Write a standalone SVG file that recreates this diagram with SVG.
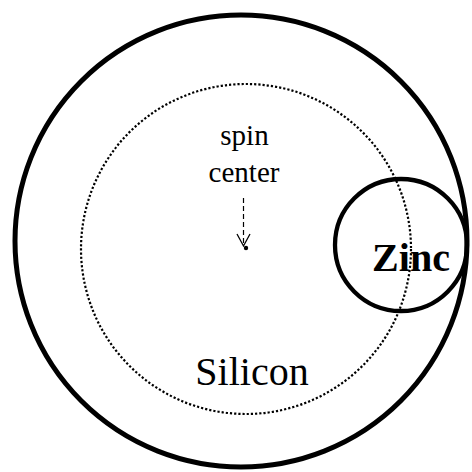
<svg xmlns="http://www.w3.org/2000/svg" width="472" height="472" viewBox="0 0 472 472">
<style>
.t{font-family:"Liberation Serif","Times New Roman",serif;fill:#000;text-anchor:middle}
</style>
<defs>
<marker id="ah" markerWidth="16" markerHeight="16" refX="14" refY="8" orient="auto" markerUnits="userSpaceOnUse" viewBox="0 0 16 16">
<path d="M2,1.5 L14,8 L2,14.5" fill="none" stroke="#000" stroke-width="1.3"/>
</marker>
</defs>
<rect width="472" height="472" fill="#fff"/>
<g id="silicon">
<circle cx="241" cy="241" r="226" fill="none" stroke="#000" stroke-width="5"/>
<text class="t" x="252" y="385" font-size="40">Silicon</text>
</g>
<g id="spin-orbit">
<circle cx="246" cy="249" r="165" fill="none" stroke="#000" stroke-width="2.2" stroke-dasharray="2.2 2"/>
</g>
<g id="spin-center">
<circle cx="246" cy="248" r="2.2" fill="#000"/>
<text class="t" x="244.5" y="145" font-size="29">spin</text>
<text class="t" x="244" y="182" font-size="29">center</text>
</g>
<g id="zinc">
<circle cx="401" cy="245" r="66" fill="none" stroke="#000" stroke-width="4.3"/>
<text class="t" x="411" y="271" font-size="40" font-weight="bold">Zinc</text>
</g>
<g id="connectors">
<path d="M243.5,198 L243.5,246" fill="none" stroke="#000" stroke-width="1.2" stroke-dasharray="5 3" marker-end="url(#ah)"/>
</g>
</svg>
